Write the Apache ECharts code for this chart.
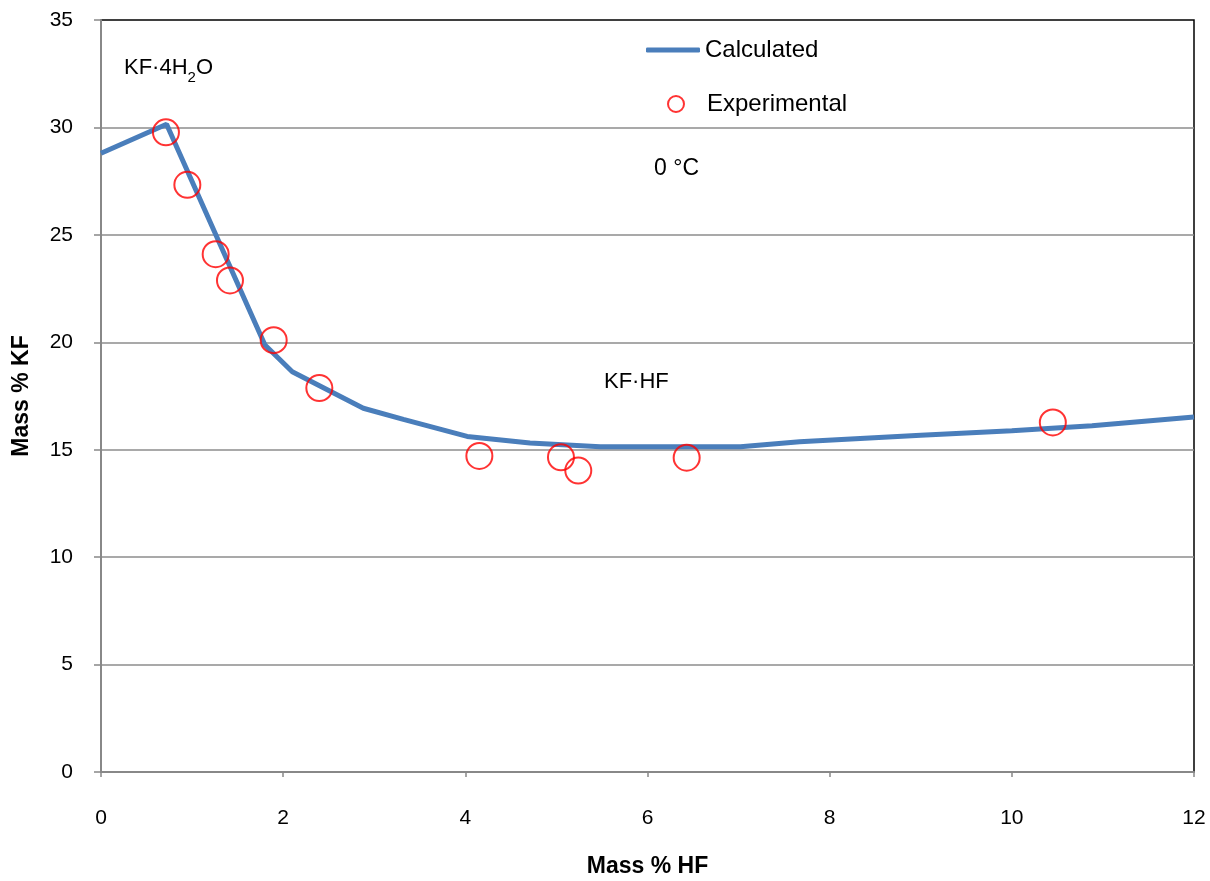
<!DOCTYPE html>
<html><head><meta charset="utf-8">
<script src="https://cdn.jsdelivr.net/npm/echarts@6/dist/echarts.min.js"></script>
<style>html,body{margin:0;padding:0;background:#fff}#c{width:1210px;height:881px}</style>
</head><body><div id="c"></div>
<script>
// Calculated solubility curve (Mass % HF, Mass % KF)
const calcX = [0, 0.72, 1.80, 2.10, 2.88, 3.32, 4.02, 4.71, 5.48, 7.02, 7.67, 9.0, 10.0, 10.88, 10.90, 12.0];
const calcY = [28.8, 30.15, 19.87, 18.63, 16.93, 16.41, 15.62, 15.31, 15.14, 15.14, 15.37, 15.67, 15.88, 16.12, 16.05, 16.52];
// Experimental points
const expX = [0.713, 0.948, 1.259, 1.416, 1.896, 2.397, 4.154, 5.05, 5.24, 6.43, 10.45];
const expY = [29.77, 27.33, 24.1, 22.88, 20.1, 17.87, 14.71, 14.65, 14.03, 14.63, 16.27];
const xTicks = [0, 2, 4, 6, 8, 10, 12];
const yTicks = [0, 5, 10, 15, 20, 25, 30, 35];

const FONT = '"Liberation Sans",sans-serif';
const chart = echarts.init(document.getElementById('c'));
chart.setOption({
  animation: false,
  backgroundColor: '#fff',
  textStyle: { fontFamily: FONT },
  grid: { left: 101, right: 16, top: 20, bottom: 109, outerBoundsMode: 'none', containLabel: false,
          show: true, borderColor: '#000', borderWidth: 1.5 },
  xAxis: {
    type: 'value', min: xTicks[0], max: xTicks[xTicks.length - 1], interval: 2,
    name: 'Mass % HF', nameLocation: 'middle', nameGap: 83,
    nameTextStyle: { fontSize: 23, fontWeight: 'bold', color: '#000', fontFamily: FONT },
    axisLine: { lineStyle: { color: '#888', width: 2 } },
    axisTick: { show: true, inside: false, length: 5, lineStyle: { color: '#888', width: 1.5 } },
    axisLabel: { fontSize: 21, color: '#000', margin: 36, fontFamily: FONT },
    splitLine: { show: false }
  },
  yAxis: {
    type: 'value', min: yTicks[0], max: yTicks[yTicks.length - 1], interval: 5,
    name: 'Mass % KF', nameLocation: 'middle', nameGap: 68, nameRotate: 90,
    nameTextStyle: { fontSize: 23, fontWeight: 'bold', color: '#000', fontFamily: FONT },
    axisLine: { show: true, lineStyle: { color: '#888', width: 2 } },
    axisTick: { show: true, inside: false, length: 7, lineStyle: { color: '#888', width: 1.5 } },
    axisLabel: { fontSize: 21, color: '#000', margin: 28, fontFamily: FONT },
    splitLine: { show: true, showMaxLine: false, lineStyle: { color: '#8c8c8c', width: 1.5 } }
  },
  legend: [
    {
      data: [{ name: 'Calculated', icon: 'roundRect', itemStyle: { color: '#4a7ebb' } }],
      orient: 'vertical', left: 641, top: 32,
      itemWidth: 54, itemHeight: 5, itemGap: 0,
      textStyle: { fontSize: 24, lineHeight: 26, color: '#000', fontFamily: FONT }
    },
    {
      data: [{ name: 'Experimental', icon: 'circle', itemStyle: { color: 'rgba(0,0,0,0)', borderColor: '#ff0000', borderWidth: 2 } }],
      orient: 'vertical', left: 662, top: 86,
      itemWidth: 16, itemHeight: 16, itemGap: 0,
      textStyle: { fontSize: 24, lineHeight: 26, color: '#000', fontFamily: FONT, padding: [0, 0, 0, 18] }
    }
  ],
  series: [
    {
      name: 'Calculated', type: 'line', showSymbol: false, symbol: 'none',
      data: calcX.map((x, i) => [x, calcY[i]]),
      lineStyle: { color: '#4a7ebb', width: 5 },
      itemStyle: { color: '#4a7ebb' },
      z: 2
    },
    {
      name: 'Experimental', type: 'scatter', symbol: 'circle', symbolSize: 26,
      data: expX.map((x, i) => [x, expY[i]]),
      itemStyle: { color: 'rgba(0,0,0,0)', borderColor: '#ff0000', borderWidth: 2 },
      z: 3
    }
  ],
  graphic: [
    { type: 'text', left: 124, top: 57, style: {
      text: '{n|KF·4H}{s|2}{n|O}', fill: '#000',
      rich: { n: { fontSize: 22, fontFamily: FONT, fill: '#000', verticalAlign: 'top', lineHeight: 28 },
              s: { fontSize: 15, fontFamily: FONT, fill: '#000', verticalAlign: 'bottom', lineHeight: 28, padding: [12, 0, 0, 0] } } } },
    { type: 'text', left: 654, top: 157, style: { text: '0 °C', fontSize: 23, fontFamily: FONT, fill: '#000' } },
    { type: 'text', left: 604, top: 371, style: { text: 'KF·HF', fontSize: 22, fontFamily: FONT, fill: '#000' } }
  ]
});
</script></body></html>
